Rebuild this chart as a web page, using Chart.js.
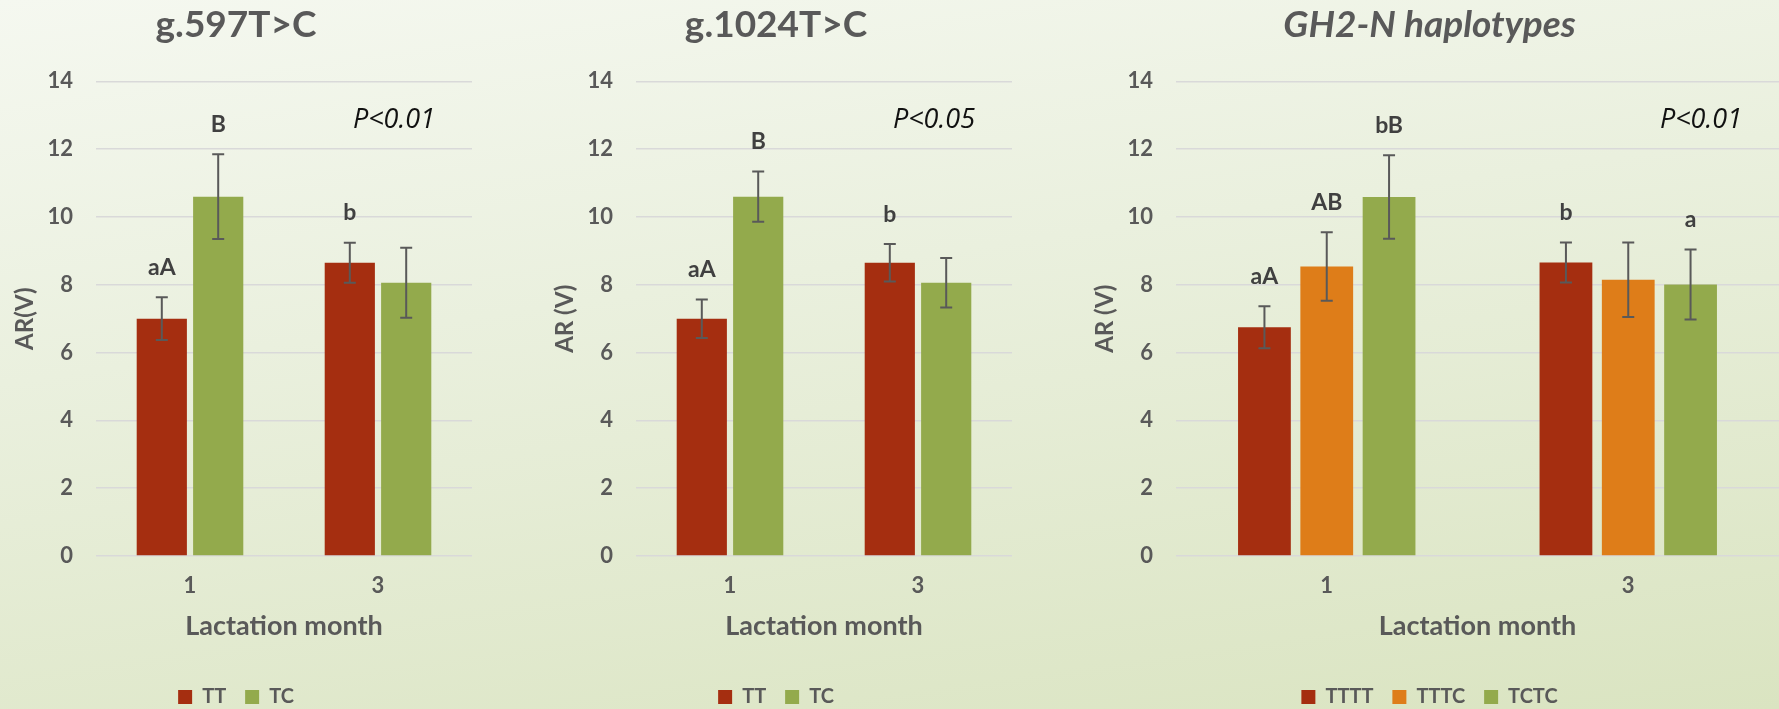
<!DOCTYPE html>
<html>
<head>
<meta charset="utf-8">
<title>AR by lactation month</title>
<script src="https://cdn.jsdelivr.net/npm/chart.js@4.4.1/dist/chart.umd.min.js"></script>
<style>
  html, body { margin: 0; padding: 0; }
  body {
    width: 1779px; height: 709px; overflow: hidden; position: relative;
    background: linear-gradient(172deg, #f5f8f0 0%, #eaf0de 40%, #dae4c1 100%);
  }
  canvas { position: absolute; top: 0; }
</style>
</head>
<body>
<canvas id="c597" width="480" height="717" style="left:0px"></canvas>
<canvas id="c1024" width="480" height="717" style="left:540px"></canvas>
<canvas id="cHap" width="699" height="717" style="left:1080px"></canvas>
<script>
// data
const months = ['1', '3'];
const yTicks = [0, 2, 4, 6, 8, 10, 12, 14];

// g.597T>C
const tt597 = [7.0, 8.65];
const tt597Err = [0.63, 0.59];
const tt597Sig = ['aA', 'b'];
const tc597 = [10.6, 8.06];
const tc597Err = [1.25, 1.03];
const tc597Sig = ['B', ''];

// g.1024T>C
const tt1024 = [7.0, 8.65];
const tt1024Err = [0.57, 0.55];
const tt1024Sig = ['aA', 'b'];
const tc1024 = [10.6, 8.06];
const tc1024Err = [0.74, 0.73];
const tc1024Sig = ['B', ''];

// GH2-N haplotypes
const tttt = [6.75, 8.66];
const ttttErr = [0.62, 0.59];
const ttttSig = ['aA', 'b'];
const tttc = [8.54, 8.15];
const tttcErr = [1.01, 1.10];
const tttcSig = ['AB', ''];
const tctc = [10.59, 8.01];
const tctcErr = [1.23, 1.03];
const tctcSig = ['bB', 'a'];

const RED = '#a52e10', ORANGE = '#de7d19', GREEN = '#93aa4c';
const GREY = '#595959';

Chart.defaults.font.family = 'Lato';
Chart.defaults.color = GREY;

// error bars, significance letters and the P value note
const errorBars = {
  id: 'errorBars',
  afterDatasetsDraw(chart, args, opts) {
    const ctx = chart.ctx;
    const y = chart.scales.y;
    ctx.save();
    chart.data.datasets.forEach((ds, di) => {
      chart.getDatasetMeta(di).data.forEach((bar, i) => {
        const v = ds.data[i], e = ds.errors[i];
        const top = y.getPixelForValue(v + e);
        const bot = y.getPixelForValue(v - e);
        ctx.strokeStyle = GREY;
        ctx.lineWidth = 2;
        ctx.beginPath();
        ctx.moveTo(bar.x, top); ctx.lineTo(bar.x, bot);
        ctx.moveTo(bar.x - 6, top); ctx.lineTo(bar.x + 6, top);
        ctx.moveTo(bar.x - 6, bot); ctx.lineTo(bar.x + 6, bot);
        ctx.stroke();
        if (ds.letters[i]) {
          ctx.fillStyle = '#404040';
          ctx.font = 'bold 23px Lato';
          ctx.textAlign = 'center';
          ctx.textBaseline = 'middle';
          ctx.fillText(ds.letters[i], bar.x, top - 30);
        }
      });
    });
    const area = chart.chartArea;
    ctx.fillStyle = '#111';
    ctx.font = 'italic 27px "Open Sans"';
    ctx.textAlign = 'right';
    ctx.textBaseline = 'middle';
    ctx.fillText(opts.p, area.right - 37, area.top + 39);
    ctx.restore();
  }
};

function makeChart(id, title, italic, yTitle, series, pText, catPct, barPct, padRight) {
  new Chart(document.getElementById(id), {
    type: 'bar',
    data: {
      labels: months,
      datasets: series.map(s => ({
        label: s.name,
        data: s.values,
        errors: s.errors,
        letters: s.letters,
        backgroundColor: s.color,
        categoryPercentage: catPct,
        barPercentage: barPct
      }))
    },
    options: {
      responsive: false,
      devicePixelRatio: 1,
      animation: false,
      layout: { padding: { left: 0, right: padRight, top: 0, bottom: 0 } },
      plugins: {
        title: {
          display: true,
          text: title,
          color: GREY,
          font: { size: 37, weight: 'bold', style: italic ? 'italic' : 'normal' },
          padding: { top: 3, bottom: 34 }
        },
        legend: {
          position: 'bottom',
          labels: {
            boxWidth: 14, boxHeight: 14, padding: 19,
            color: GREY,
            font: { size: 20, weight: 'bold' }
          }
        },
        tooltip: { enabled: false },
        errorBars: { p: pText }
      },
      scales: {
        x: {
          grid: { display: false },
          border: { display: false },
          ticks: { padding: 9, font: { size: 22, weight: 'bold' } },
          title: {
            display: true, text: 'Lactation month',
            font: { size: 27, weight: 'bold' },
            padding: { top: 0, bottom: 26 }
          },
          afterFit(s) { s.height = 112; }
        },
        y: {
          min: yTicks[0],
          max: yTicks[yTicks.length - 1],
          afterBuildTicks(s) { s.ticks = yTicks.map(v => ({ value: v })); },
          grid: { color: '#d9d9d9', lineWidth: 1.5, drawTicks: false },
          border: { display: false },
          ticks: { padding: 23, font: { size: 22, weight: 'bold' } },
          title: {
            display: true, text: yTitle,
            font: { size: 24, weight: 'bold' },
            padding: { top: 11, bottom: 0 }
          },
          afterFit(s) { s.width = 96; }
        }
      }
    },
    plugins: [errorBars]
  });
}

makeChart('c597', 'g.597T>C', false, 'AR(V)', [
  { name: 'TT', values: tt597, errors: tt597Err, letters: tt597Sig, color: RED },
  { name: 'TC', values: tc597, errors: tc597Err, letters: tc597Sig, color: GREEN }
], 'P<0.01', 0.6, 0.89, 8);

makeChart('c1024', 'g.1024T>C', false, 'AR (V)', [
  { name: 'TT', values: tt1024, errors: tt1024Err, letters: tt1024Sig, color: RED },
  { name: 'TC', values: tc1024, errors: tc1024Err, letters: tc1024Sig, color: GREEN }
], 'P<0.05', 0.6, 0.89, 8);

makeChart('cHap', 'GH2-N haplotypes', true, 'AR (V)', [
  { name: 'TTTT', values: tttt, errors: ttttErr, letters: ttttSig, color: RED },
  { name: 'TTTC', values: tttc, errors: tttcErr, letters: tttcSig, color: ORANGE },
  { name: 'TCTC', values: tctc, errors: tctcErr, letters: tctcSig, color: GREEN }
], 'P<0.01', 0.62, 0.847, 0);
</script>
</body>
</html>
